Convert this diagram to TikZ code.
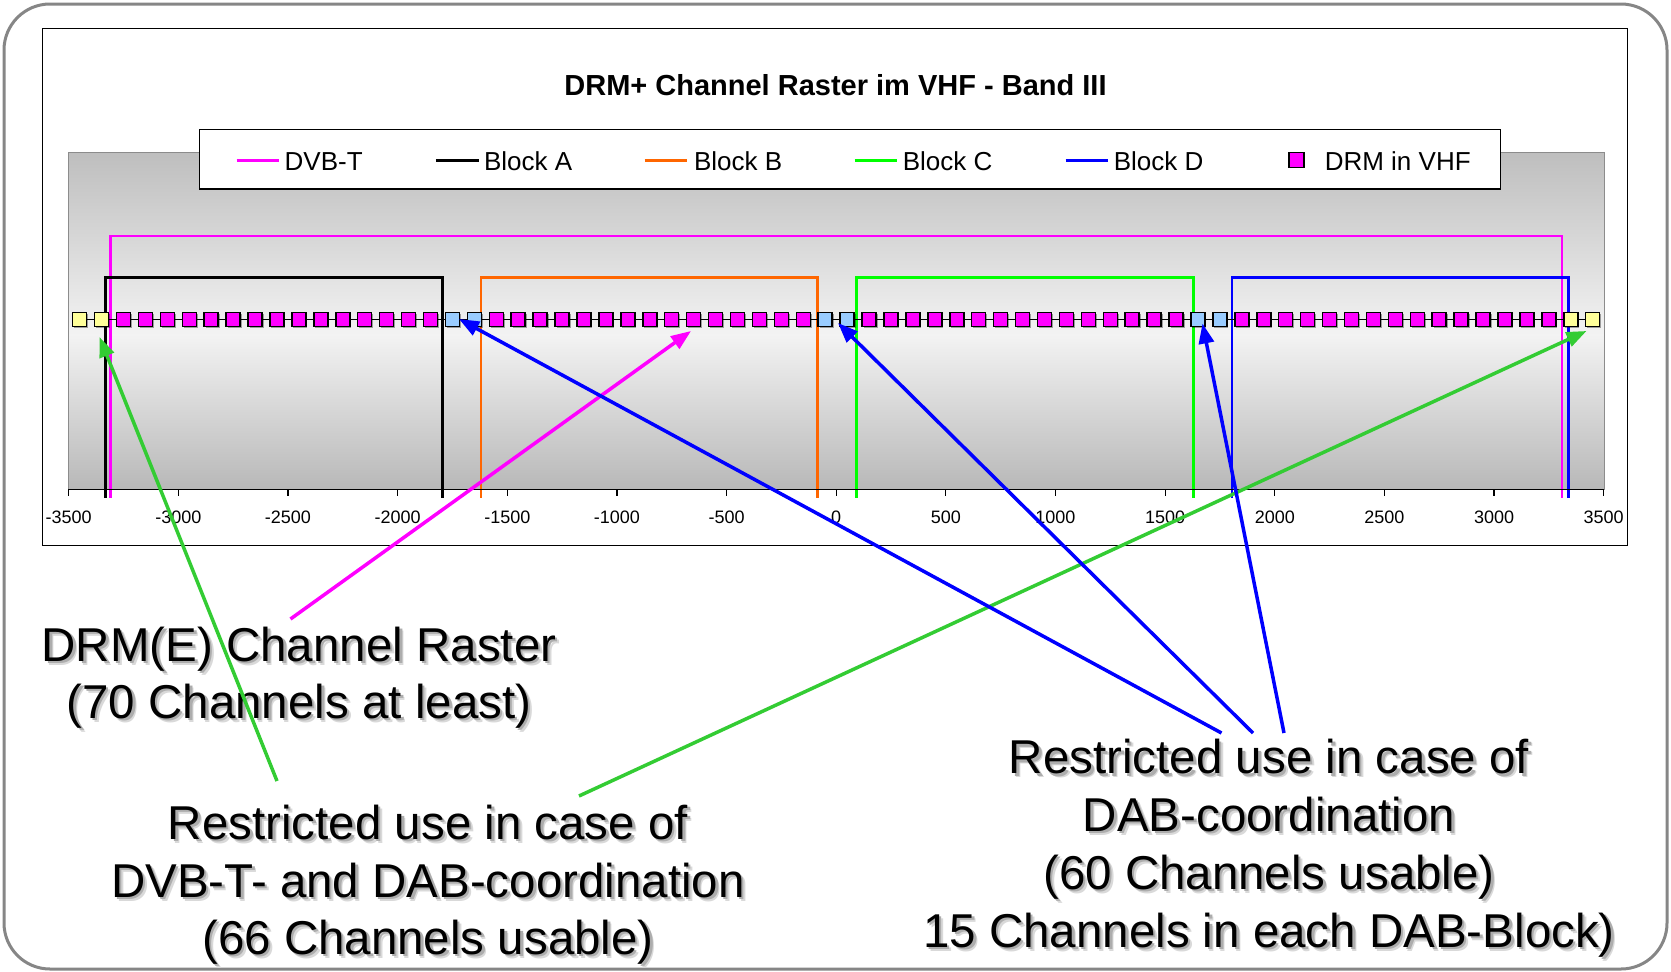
\documentclass[tikz,border=0pt]{standalone}
\usepackage{fontspec}
\setmainfont{Liberation Sans}
\usetikzlibrary{arrows.meta,shadows}
\definecolor{dvbt}{RGB}{255,0,255}
\definecolor{blkb}{RGB}{255,102,0}
\definecolor{blkc}{RGB}{0,255,0}
\definecolor{blkd}{RGB}{0,0,255}
\definecolor{sqmag}{RGB}{255,0,255}
\definecolor{sqyel}{RGB}{255,255,153}
\definecolor{sqblu}{RGB}{153,204,255}
\definecolor{arrgreen}{RGB}{51,204,51}
\definecolor{arrblue}{RGB}{0,0,255}
\definecolor{framegray}{RGB}{134,134,134}
\definecolor{pgtop}{RGB}{190,190,190}
\definecolor{pgmid}{RGB}{243,243,243}
\definecolor{pgbot}{RGB}{184,184,184}
\newcommand\shtxt[1]{\makebox[0pt][l]{\hspace{4pt}\raisebox{-4pt}{\textcolor{black!15}{#1}}}\makebox[0pt][l]{\hspace{2.5pt}\raisebox{-2.5pt}{\textcolor{black!32}{#1}}}#1}
\begin{document}
\begin{tikzpicture}[x=1pt,y=-1pt,
  blkline/.style={line width=2.6pt},
  sqnode/.style={draw=black, line width=1.5pt, minimum size=14pt, inner sep=0pt, outer sep=0pt,
    drop shadow={shadow xshift=1.4pt, shadow yshift=-1.4pt, fill=black, opacity=0.35}},
  ticklbl/.style={font=\fontsize{18}{20}\selectfont, inner sep=0pt, anchor=base},
  legtxt/.style={font=\fontsize{26}{30}\selectfont, inner sep=0pt, anchor=base west},
  legline/.style={line width=3pt},
  bigtxt/.style={font=\fontsize{47.5}{57}\selectfont, inner sep=0pt, anchor=base},
  arr/.style={line width=3.5pt, -{Triangle[length=20pt,width=15pt]}}]
\useasboundingbox (0,0) rectangle (1671,972);
\fill[white] (0,0) rectangle (1671,972);
% outer rounded frame
\draw[framegray, line width=3pt, rounded corners=46pt] (4,4) rectangle (1667,969);
% chart frame
\draw[black, line width=1.3pt, fill=white] (42.7,28.3) rectangle (1627.3,545.5);
\node[font=\bfseries\fontsize{29}{34}\selectfont, inner sep=0pt, anchor=base] (title) at (835.5,95) {DRM+ Channel Raster im VHF - Band III};
% plot area
\shade[top color=pgtop, bottom color=pgmid] (68.2,152) rectangle (1604.3,335);
\shade[top color=pgmid, bottom color=pgbot] (68.2,334.5) rectangle (1604.3,489.3);
\draw[black!45, line width=1pt] (68.2,152) rectangle (1604.3,489.3);
\begin{scope}[xshift=836.2pt, x=0.21929pt]
  \draw[blkline, dvbt] (-3310,497.5) -- (-3310,236) -- (3310,236) -- (3310,497.5);
  \draw[blkline, black] (-3332,497.5) -- (-3332,277.5) -- (-1796,277.5) -- (-1796,497.5);
  \draw[blkline, blkb] (-1620,497.5) -- (-1620,277.5) -- (-84,277.5) -- (-84,497.5);
  \draw[blkline, blkc] (92,497.5) -- (92,277.5) -- (1628,277.5) -- (1628,497.5);
  \draw[blkline, blkd] (1804,497.5) -- (1804,277.5) -- (3340,277.5) -- (3340,497.5);
  \draw[line width=1.3pt] (-3500,489.3) -- (3500,489.3);
  \foreach \v [count=\i] in {-3500,-3000,-2500,-2000,-1500,-1000,-500,0,500,1000,1500,2000,2500,3000,3500}{
    \draw[line width=1.2pt] (\v,489.3) -- (\v,495.5);
    \node[ticklbl] (tick\i) at (\v,523) {\v};
  }
  \draw[line width=1.2pt] (-3450,319.7) -- (3450,319.7);
  \foreach \k in {0,...,69}{
    \def\sqc{sqmag}
    \ifnum\k<2 \def\sqc{sqyel}\fi
    \ifnum\k>67 \def\sqc{sqyel}\fi
    \ifnum\k=17 \def\sqc{sqblu}\fi
    \ifnum\k=18 \def\sqc{sqblu}\fi
    \ifnum\k=34 \def\sqc{sqblu}\fi
    \ifnum\k=35 \def\sqc{sqblu}\fi
    \ifnum\k=51 \def\sqc{sqblu}\fi
    \ifnum\k=52 \def\sqc{sqblu}\fi
    \node[sqnode, fill=\sqc] (sq\k) at ({-3450+100*\k},319.7) {};
  }
\end{scope}
% legend
\node[draw=black, fill=white, line width=1.3pt, minimum width=1301pt, minimum height=59.5pt, inner sep=0pt] (legend) at (850,159.3) {};
\draw[legline, dvbt] (236.6,160) -- (279.2,160);
\node[legtxt] (lgA) at (284.5,170) {DVB-T};
\draw[legline, black] (435.9,160) -- (478.5,160);
\node[legtxt] (lgB) at (483.8,170) {Block A};
\draw[legline, blkb] (644.7,160) -- (687.4,160);
\node[legtxt] (lgC) at (693.8,170) {Block B};
\draw[legline, blkc] (854.7,160) -- (897.3,160);
\node[legtxt] (lgD) at (902.6,170) {Block C};
\draw[legline, blkd] (1065.7,160) -- (1108.3,160);
\node[legtxt] (lgE) at (1113.6,170) {Block D};
\node[draw=black, line width=1.5pt, minimum size=15pt, inner sep=0pt, fill=sqmag] (lgsq) at (1296.7,160) {};
\node[legtxt] (lgF) at (1324.6,170) {DRM in VHF};
% big texts
\node[bigtxt] (t1a) at (299,661) {\shtxt{DRM(E) Channel Raster}};
\node[bigtxt] (t1b) at (299,718) {\shtxt{(70 Channels at least)}};
\node[bigtxt] (t2a) at (428,839) {\shtxt{Restricted use in case of}};
\node[bigtxt] (t2b) at (428,897) {\shtxt{DVB-T- and DAB-coordination}};
\node[bigtxt] (t2c) at (428,954) {\shtxt{(66 Channels usable)}};
\node[bigtxt] (t3a) at (1269,773.5) {\shtxt{Restricted use in case of}};
\node[bigtxt] (t3b) at (1269,831) {\shtxt{DAB-coordination}};
\node[bigtxt] (t3c) at (1269,889) {\shtxt{(60 Channels usable)}};
\node[bigtxt] (t3d) at (1269,947) {\shtxt{15 Channels in each DAB-Block)}};
% arrows
\coordinate (magS) at (290.5,619); \coordinate (magT) at (691,331);
\coordinate (g1S) at (277,781); \coordinate (g1T) at (99.5,337);
\coordinate (g2S) at (579,796); \coordinate (g2T) at (1586.5,331);
\coordinate (b1S) at (1221.5,733); \coordinate (b1T) at (459,319);
\coordinate (b2S) at (1253,733); \coordinate (b2T) at (838,323);
\coordinate (b3S) at (1284,733); \coordinate (b3T) at (1202.5,323.5);
\draw[arr, dvbt] (magS) -- (magT);
\draw[arr, arrgreen] (g1S) -- (g1T);
\draw[arr, arrgreen] (g2S) -- (g2T);
\draw[arr, arrblue] (b1S) -- (b1T);
\draw[arr, arrblue] (b2S) -- (b2T);
\draw[arr, arrblue] (b3S) -- (b3T);
\end{tikzpicture}
\end{document}
